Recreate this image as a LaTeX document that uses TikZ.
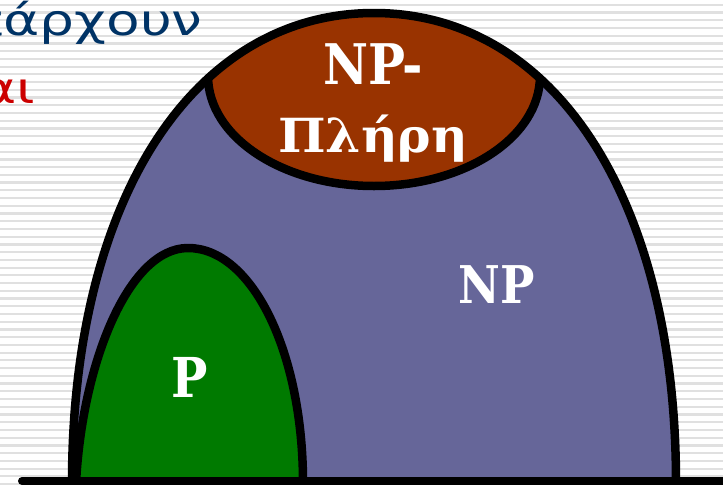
\documentclass[tikz,border=0pt]{standalone}
\usepackage{fontspec}
\newfontfamily\slabfont[FakeStretch=0.88]{DejaVu Serif}
\newfontfamily\greeksans{DejaVu Sans}
\definecolor{npcol}{HTML}{666699}
\definecolor{capcol}{HTML}{993300}
\definecolor{pcol}{HTML}{007A00}
\definecolor{titleblue}{HTML}{003366}
\definecolor{titlered}{HTML}{CC0000}
\tikzset{
  stripe/.style={draw=black!12, line width=2.2pt},
  edge/.style={draw=black, line width=8.5pt},
  baseline/.style={draw=black, line width=8pt, line cap=round},
  lbl/.style={text=white, font=\slabfont\bfseries, inner sep=0pt},
  titletext/.style={inner sep=0pt, font=\greeksans}
}
\def\domeshape{(72,483) .. controls (72,200) and (193,13) .. (374,13) .. controls (555,13) and (676,200) .. (676,483)}
\def\pshape{(76,483) .. controls (82,365) and (128,248) .. (188,248) .. controls (252,248) and (303,352) .. (303,483)}
\begin{document}
\begin{tikzpicture}[x=1pt,y=-1pt]
\useasboundingbox (0,0) rectangle (723,485);
\clip (0,0) rectangle (723,485);
\fill[white] (0,0) rectangle (723,485);
\foreach \k in {0,...,62} \draw[stripe] (0,4.8+7.73*\k) -- (723,4.8+7.73*\k);
% title fragments
\node[titletext, anchor=base west, text=titleblue] (t1) at (-30,35) {\fontsize{43}{48}\selectfont\scalebox{1.28}[1]{πάρχουν}};
\node[titletext, anchor=base west, text=titlered] (t2) at (-20,103) {\fontsize{43}{48}\selectfont\scalebox{1.28}[1]{αι}};
% NP dome
\fill[npcol] \domeshape -- cycle;
\begin{scope}
  \clip \domeshape -- cycle;
  \fill[capcol] (208,76) arc[start angle=180, end angle=0, x radius=166, y radius=110] -- (540,0) -- (208,0) -- cycle;
  \draw[edge] (208,76) arc[start angle=180, end angle=0, x radius=166, y radius=110];
  \fill[pcol] \pshape -- cycle;
  \draw[edge] \pshape;
\end{scope}
\draw[edge] \domeshape;
\draw[baseline] (22,481) -- (740,481);
% labels
\node[lbl, anchor=base] (npc1) at (373,84) {\fontsize{56}{60}\selectfont NP-};
\node[lbl, anchor=base] (npc2) at (373,152) {\fontsize{47}{52}\selectfont\scalebox{1.22}[1]{Πλήρη}};
\node[lbl, anchor=base] (np) at (497,303) {\fontsize{52}{56}\selectfont NP};
\node[lbl, anchor=base] (p) at (190,397) {\fontsize{55}{60}\selectfont P};
\end{tikzpicture}
\end{document}
